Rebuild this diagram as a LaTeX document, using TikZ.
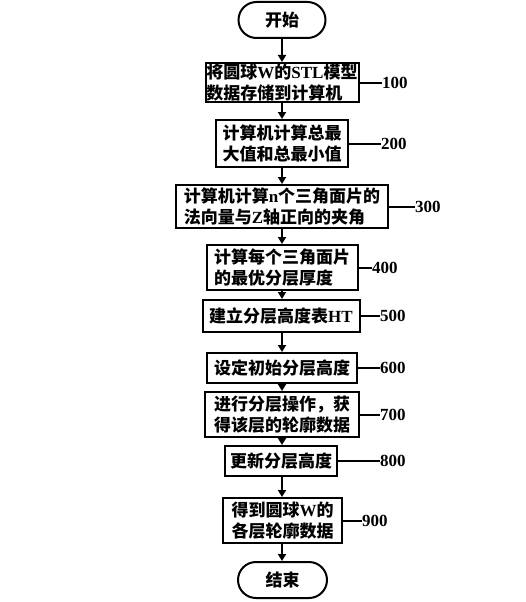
\documentclass[tikz,border=0pt]{standalone}
\usepackage{fontspec}
\setmainfont{Liberation Serif}
\newfontfamily\cjk{Noto Sans CJK SC}
\usetikzlibrary{arrows.meta,shapes.misc}
\newcommand{\lt}[1]{{\rmfamily\bfseries #1}}
\tikzset{
  stepbox/.style={draw,line width=2pt,rectangle,inner sep=0pt,align=left,
    font=\cjk\bfseries\fontsize{17}{21}\selectfont},
  term/.style={draw,line width=2pt,rounded rectangle,inner sep=0pt,minimum height=36pt,
    font=\cjk\bfseries\fontsize{17}{21}\selectfont},
  flow/.style={line width=2pt,-{Triangle[length=7pt,width=8pt]}},
  tag/.style={line width=2pt},
  num/.style={anchor=west,inner sep=0pt,font=\bfseries\fontsize{17}{20}\selectfont}
}
\begin{document}
\begin{tikzpicture}[x=1pt,y=-1pt]
\useasboundingbox (0,0) rectangle (526,602);
\node[term,minimum width=87pt] (s) at (282,20) {开始};
\node[stepbox,minimum width=153pt,minimum height=39pt] (b1) at (282,82.5) {将圆球\lt{W}的\lt{STL}模型\\数据存储到计算机};
\node[stepbox,minimum width=132pt,minimum height=47pt] (b2) at (282,143.5) {计算机计算总最\\大值和总最小值};
\node[stepbox,minimum width=212pt,minimum height=43pt] (b3) at (282,206.5) {计算机计算\lt{n}个三角面片的\\法向量与\lt{Z}轴正向的夹角};
\node[stepbox,minimum width=151pt,minimum height=45pt] (b4) at (282,267.5) {计算每个三角面片\\的最优分层厚度};
\node[stepbox,minimum width=157pt,minimum height=32pt] (b5) at (281,316) {建立分层高度表\lt{HT}};
\node[stepbox,minimum width=150pt,minimum height=30pt] (b6) at (282,368) {设定初始分层高度};
\node[stepbox,minimum width=154pt,minimum height=45pt] (b7) at (282,414.5) {进行分层操作，获\\得该层的轮廓数据};
\node[stepbox,minimum width=112pt,minimum height=30pt] (b8) at (281,461) {更新分层高度};
\node[stepbox,minimum width=119pt,minimum height=45pt] (b9) at (282.5,520.5) {得到圆球\lt{W}的\\各层轮廓数据};
\node[term,minimum width=89pt] (e) at (282.5,580) {结束};

\foreach \a/\b in {s/b1,b1/b2,b2/b3,b3/b4,b4/b5,b5/b6,b6/b7,b7/b8,b8/b9,b9/e}{
  \draw[flow] (\a.south -| 282,0) -- (\b.north -| 282,0);
}

\coordinate (l1) at (382,82.5);
\coordinate (l2) at (381,143.5);
\coordinate (l3) at (415,206.5);
\coordinate (l4) at (372,267.5);
\coordinate (l5) at (380,316);
\coordinate (l6) at (380,368);
\coordinate (l7) at (380,414.5);
\coordinate (l8) at (380,461);
\coordinate (l9) at (362,520.5);
\foreach \i/\t in {1/100,2/200,3/300,4/400,5/500,6/600,7/700,8/800,9/900}{
  \draw[tag] (b\i.east) -- (l\i);
  \node[num] (n\i) at (l\i) {\t};
}
\end{tikzpicture}
\end{document}
